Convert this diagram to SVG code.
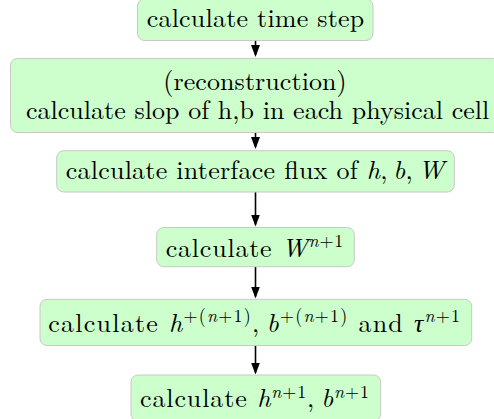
<svg xmlns="http://www.w3.org/2000/svg" width="494" height="419" viewBox="0 0 494 419">
<style>
.box{fill:#ccffcc;stroke:#c8c8c8;stroke-width:1}
text{font-size:26px;fill:#000;text-anchor:middle}
.i{font-style:italic}
.s{font-size:18px}
.edge{stroke:#000;stroke-width:1.6;fill:none;marker-end:url(#ah)}
</style>
<defs>
<marker id="ah" markerUnits="userSpaceOnUse" viewBox="0 0 12 9" refX="10" refY="4.5" markerWidth="12" markerHeight="9" orient="auto">
<path d="M0,0 L12,4.5 L0,9 Z" fill="#000"/>
</marker>
</defs>
<g id="connectors">
<line class="edge" x1="255.5" y1="40.5" x2="255.5" y2="55"/>
<line class="edge" x1="255.5" y1="132.5" x2="255.5" y2="147"/>
<line class="edge" x1="255.5" y1="192" x2="255.5" y2="224.5"/>
<line class="edge" x1="255.5" y1="267" x2="255.5" y2="296.5"/>
<line class="edge" x1="255.5" y1="345.5" x2="255.5" y2="372.5"/>
</g>
<g id="n1">
<rect class="box" x="137.5" y="-1" width="235.5" height="41.5" rx="7"/>
<text x="255.5" y="27" style="font-family:'Latin Modern Roman','Liberation Serif',serif" textLength="217.6" lengthAdjust="spacing">calculate time step</text>
</g>
<g id="n2">
<rect class="box" x="10.5" y="58.5" width="490" height="74" rx="7"/>
<text x="255" y="90" style="font-family:'Latin Modern Roman','Liberation Serif',serif" textLength="183.4" lengthAdjust="spacing">(reconstruction)</text>
<text x="257.6" y="119" style="font-family:'Latin Modern Roman','Liberation Serif',serif" textLength="463.3" lengthAdjust="spacing">calculate slop of h,b in each physical cell</text>
</g>
<g id="n3">
<rect class="box" x="56.7" y="150.7" width="397.6" height="41.3" rx="7"/>
<text x="255" y="178.5" style="font-family:'Latin Modern Roman','Liberation Serif',serif" textLength="378.6" lengthAdjust="spacing">calculate interface flux of <tspan class="i">h</tspan>,&#8201;<tspan class="i">b</tspan>,&#8201;<tspan class="i">W</tspan></text>
</g>
<g id="n4">
<rect class="box" x="156.7" y="227.5" width="197.6" height="39.2" rx="7"/>
<text x="254.5" y="256.5" style="font-family:'Latin Modern Roman','Liberation Serif',serif" textLength="177.6" lengthAdjust="spacing">calculate <tspan class="i">W</tspan><tspan class="s" dy="-9.5"><tspan class="i">n</tspan>+1</tspan></text>
</g>
<g id="n5">
<rect class="box" x="40" y="299.3" width="431.7" height="46.2" rx="7"/>
<text x="254.2" y="331.5" style="font-family:'Latin Modern Roman','Liberation Serif',serif" textLength="411.7" lengthAdjust="spacing">calculate <tspan class="i">h</tspan><tspan class="s" dy="-9.5">+(<tspan class="i">n</tspan>+1)</tspan><tspan dy="9.5">,&#8201;</tspan><tspan class="i">b</tspan><tspan class="s" dy="-9.5">+(<tspan class="i">n</tspan>+1)</tspan><tspan dy="9.5"> and </tspan><tspan class="i">τ</tspan><tspan class="s" dy="-9.5"><tspan class="i">n</tspan>+1</tspan></text>
</g>
<g id="n6">
<rect class="box" x="131" y="375" width="249.7" height="46" rx="7"/>
<text x="254.5" y="407" style="font-family:'Latin Modern Roman','Liberation Serif',serif" textLength="229" lengthAdjust="spacing">calculate <tspan class="i">h</tspan><tspan class="s" dy="-9.5"><tspan class="i">n</tspan>+1</tspan><tspan dy="9.5">,&#8201;</tspan><tspan class="i">b</tspan><tspan class="s" dy="-9.5"><tspan class="i">n</tspan>+1</tspan></text>
</g>
</svg>
